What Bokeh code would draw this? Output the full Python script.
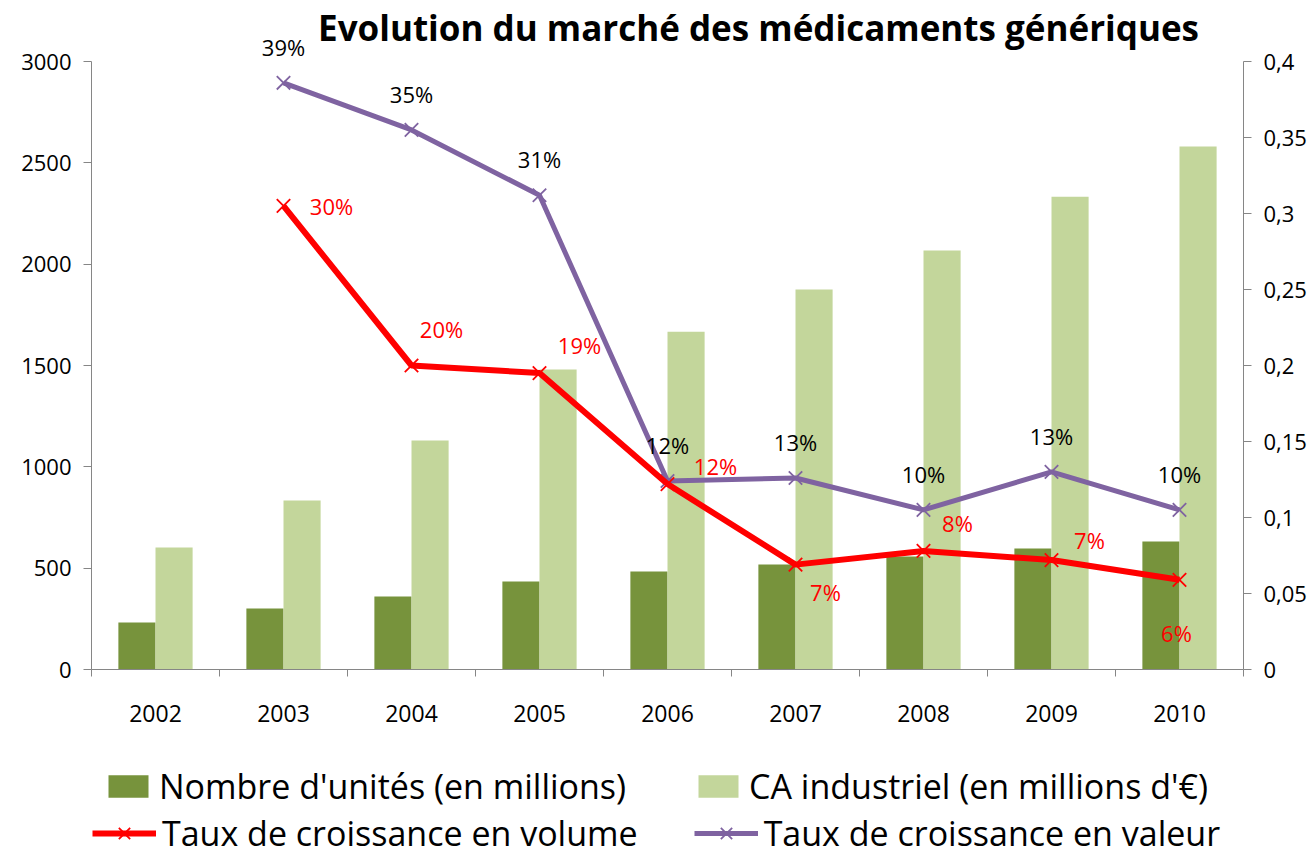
from bokeh.plotting import figure
from bokeh.layouts import column
from bokeh.models import (Range1d, LinearAxis, FixedTicker, CustomJSTickFormatter,
                          ColumnDataSource, LabelSet, Label, Legend, LegendItem)
from bokeh.core.properties import value
from bokeh.embed import file_html
from bokeh.resources import INLINE

# ---------------- data ----------------
years = ["2002", "2003", "2004", "2005", "2006", "2007", "2008", "2009", "2010"]
unites = [232, 301, 360, 434, 483, 518, 557, 597, 631]          # Nombre d'unités (millions)
ca = [602, 834, 1130, 1480, 1667, 1875, 2067, 2333, 2580]        # CA industriel (millions €)
growth_years = years[1:]
volume = [0.305, 0.200, 0.195, 0.122, 0.069, 0.078, 0.072, 0.059]
valeur = [0.386, 0.355, 0.312, 0.124, 0.126, 0.105, 0.130, 0.105]
volume_labels = ["30%", "20%", "19%", "12%", "7%", "8%", "7%", "6%"]
valeur_labels = ["39%", "35%", "31%", "12%", "13%", "10%", "13%", "10%"]
left_ticks = [0, 500, 1000, 1500, 2000, 2500, 3000]
right_ticks = [0, 0.05, 0.1, 0.15, 0.2, 0.25, 0.3, 0.35, 0.4]
TITLE = "Evolution du marché des médicaments génériques"
series_names = ["Nombre d'unités (en millions)", "CA industriel (en millions d'€)",
                "Taux de croissance en volume", "Taux de croissance en valeur"]

# label placement (screen px)
volume_dx = [48, 30, 40, 48, 30, 34, 38, -3]
volume_dy = [0, 37, 28, 18, -27, 28, 20, -53]
valeur_dy = [36] * len(valeur)

TXT = "Open Sans"
DARK = "#77933C"
LIGHT = "#C3D69B"
RED = "#FF0000"
PURPLE = "#7F63A1"
AXIS = "#868686"

# geometry (px)
FRAME_W = 1152
AXIS_H = 608          # height of the 0..3000 part of the axis
HEADROOM = 61         # space above the 3000 tick kept inside the frame (title lives there)
FRAME_H = AXIS_H + HEADROOM
BOTTOM_B = 70
Y_MAX = left_ticks[-1]
P_MAX = right_ticks[-1]
LEFT_B, RIGHT_B = 91, 66
TOTAL_W = LEFT_B + FRAME_W + RIGHT_B
PAGE_H = 856

centers = [i + 0.5 for i in range(len(years))]
gcenters = [centers[years.index(y)] for y in growth_years]

p = figure(frame_width=FRAME_W, frame_height=FRAME_H, output_backend="svg", toolbar_location=None,
           x_range=Range1d(0, len(years)), y_range=Range1d(0, Y_MAX * FRAME_H / AXIS_H),
           min_border_left=LEFT_B, min_border_right=RIGHT_B, min_border_top=0,
           min_border_bottom=BOTTOM_B)
p.extra_y_ranges = {"pct": Range1d(0, P_MAX * FRAME_H / AXIS_H)}
p.outline_line_color = None
p.xgrid.grid_line_color = None
p.ygrid.grid_line_color = None

bar_src = ColumnDataSource(dict(xd=[c - 0.145 for c in centers], xl=[c + 0.145 for c in centers],
                                unites=unites, ca=ca))
p.vbar(x="xd", top="unites", width=0.29, source=bar_src, fill_color=DARK, line_color=None)
p.vbar(x="xl", top="ca", width=0.29, source=bar_src, fill_color=LIGHT, line_color=None)

line_src = ColumnDataSource(dict(x=gcenters, vol=volume, val=valeur,
                                 vol_lab=volume_labels, val_lab=valeur_labels,
                                 vdx=volume_dx, vdy=volume_dy, ldy=valeur_dy))
p.line("x", "val", source=line_src, y_range_name="pct", line_color=PURPLE, line_width=5)
p.scatter("x", "val", source=line_src, y_range_name="pct", marker="x", size=19,
          line_color=PURPLE, line_width=1.8)
p.line("x", "vol", source=line_src, y_range_name="pct", line_color=RED, line_width=6)
p.scatter("x", "vol", source=line_src, y_range_name="pct", marker="x", size=19,
          line_color=RED, line_width=1.8)

p.add_layout(LabelSet(x="x", y="val", text="val_lab", source=line_src, y_range_name="pct",
                      y_offset="ldy", text_align="center", text_baseline="middle",
                      text_font=value(TXT), text_font_size=value("22px"), text_color="black"))
p.add_layout(LabelSet(x="x", y="vol", text="vol_lab", source=line_src, y_range_name="pct",
                      x_offset="vdx", y_offset="vdy", text_align="center", text_baseline="middle",
                      text_font=value(TXT), text_font_size=value("22px"), text_color=RED))

# title, placed in the headroom of the frame (position given in px, converted to data units)
title_px_x = 667      # from frame left
title_px_y = 27       # from frame top
p.add_layout(Label(x=title_px_x / FRAME_W * len(years),
                   y=(FRAME_H - title_px_y) / AXIS_H * Y_MAX,
                   text=TITLE, text_align="center", text_baseline="middle",
                   text_font=TXT, text_font_style="bold", text_font_size="35px",
                   text_color="black"))


def style_axis(ax):
    ax.axis_line_color = AXIS
    ax.major_tick_line_color = AXIS
    ax.minor_tick_line_color = None
    ax.major_tick_out = 8
    ax.major_tick_in = 0
    ax.major_label_text_font = TXT
    ax.major_label_text_font_size = "22px"
    ax.major_label_text_color = "black"


# left axis
ya = p.yaxis[0]
ya.ticker = FixedTicker(ticks=left_ticks)
ya.bounds = (0, Y_MAX)
style_axis(ya)
ya.major_label_standoff = 12

ra = LinearAxis(y_range_name="pct", ticker=FixedTicker(ticks=right_ticks), bounds=(0, P_MAX),
                formatter=CustomJSTickFormatter(code="""
                    return tick.toFixed(2).replace(/0+$/, '').replace(/\\.$/, '').replace('.', ',');
                """))
style_axis(ra)
ra.major_label_standoff = 12
p.add_layout(ra, "right")

# bottom axis: tick marks at category boundaries
xa = p.xaxis[0]
xa.ticker = FixedTicker(ticks=list(range(len(years) + 1)))
xa.major_label_overrides = {i: "" for i in range(len(years) + 1)}
style_axis(xa)
xa.major_tick_out = 7
xa.major_label_text_font_size = "1px"
xa.major_label_standoff = 0

# bottom axis: category labels
la = LinearAxis(ticker=FixedTicker(ticks=centers),
                major_label_overrides={c: y for c, y in zip(centers, years)})
style_axis(la)
la.axis_line_color = None
la.major_tick_line_color = None
la.major_tick_out = 0
la.major_label_text_font_size = "23px"
la.major_label_standoff = 28
p.add_layout(la, "below")

# ---------------- legend strip ----------------
LEG_H = PAGE_H - (FRAME_H + BOTTOM_B)
q = figure(width=TOTAL_W, height=LEG_H, output_backend="svg", toolbar_location=None,
           x_range=Range1d(-100, -99), y_range=Range1d(1e6, 1e6 + 1),
           x_axis_type=None, y_axis_type=None,
           min_border_left=0, min_border_right=0, min_border_top=0, min_border_bottom=0)
q.outline_line_color = None
q.grid.visible = False
# legend proxies: same series, lying entirely outside the strip's visible ranges
k_u = q.vbar(x="xd", top="unites", width=0.29, source=bar_src, fill_color=DARK, line_color=None)
k_c = q.vbar(x="xl", top="ca", width=0.29, source=bar_src, fill_color=LIGHT, line_color=None)
k_vl = q.line("x", "vol", source=line_src, line_color=RED, line_width=6)
k_vs = q.scatter("x", "vol", source=line_src, marker="x", size=19, line_color=RED, line_width=1.8)
k_wl = q.line("x", "val", source=line_src, line_color=PURPLE, line_width=5)
k_ws = q.scatter("x", "val", source=line_src, marker="x", size=19, line_color=PURPLE, line_width=1.8)


def make_legend(items, loc, gw, gh, spacing):
    lg = Legend(items=items, orientation="horizontal", location=loc)
    lg.label_text_font = TXT
    lg.label_text_font_size = "34px"
    lg.label_text_color = "black"
    lg.label_height = 36
    lg.glyph_width = gw
    lg.glyph_height = gh
    lg.label_standoff = 6
    lg.spacing = spacing
    lg.border_line_color = None
    lg.background_fill_alpha = 0
    lg.margin = 0
    lg.padding = 0
    return lg


leg1 = make_legend([LegendItem(label=series_names[0], renderers=[k_u]),
                    LegendItem(label=series_names[1], renderers=[k_c])],
                   (12, 47), 50, 28, 67)
leg2 = make_legend([LegendItem(label=series_names[2], renderers=[k_vl, k_vs]),
                    LegendItem(label=series_names[3], renderers=[k_wl, k_ws])],
                   (1, 0), 64, 40, 56)
q.add_layout(leg1)
q.add_layout(leg2)

open("out.html", "w").write(file_html(column(p, q, spacing=0), INLINE))
